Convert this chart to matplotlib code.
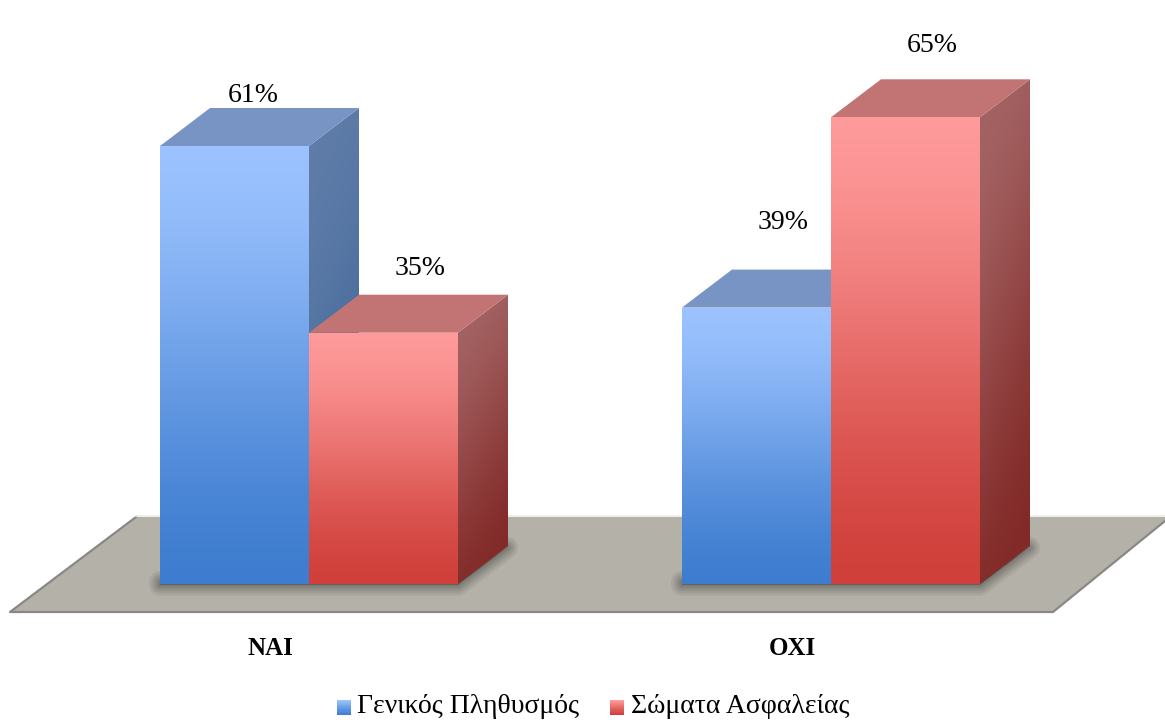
import numpy as np
import matplotlib
matplotlib.use("Agg")
import matplotlib.pyplot as plt
from matplotlib.legend_handler import HandlerBase
from matplotlib.patches import Patch, Polygon, Rectangle

plt.rcParams['font.family'] = ['Liberation Serif', 'DejaVu Serif']

categories = ["ΝΑΙ", "ΟΧΙ"]
series_names = ["Γενικός Πληθυσμός", "Σώματα Ασφαλείας"]
# bar heights, the labels are what the chart prints
general_values = [61, 38.5]
security_values = [35, 65]
general_labels = ["61%", "39%"]
security_labels = ["35%", "65%"]

W, H = 1165, 720
PX_X = 522.0   # pixels per category
PX_Y = 7.18    # pixels per percent
X0, Y0 = 309, 584

BAR_W = 149 / PX_X
DEPTH_X = 50 / PX_X
DEPTH_Y = 38 / PX_Y

# colours: front top, front bottom, side top, side bottom, roof
BLUE = ["#9cc3ff", "#3d7ccf", "#5f7ca8", "#3f6698", "#7894c4"]
RED = ["#ff9b9b", "#d03f3a", "#a36262", "#822a28", "#c27474"]


def px(x, y):
    # picture pixel to data coordinates, only for the floor and frame
    return (x - X0) / PX_X, (Y0 - y) / PX_Y


def rgb(c):
    return np.array(matplotlib.colors.to_rgb(c))


def fill_gradient(ax, pts, top, bottom, z, skew=0.0):
    pts = np.array(pts)
    x0, x1 = pts[:, 0].min(), pts[:, 0].max()
    y0, y1 = pts[:, 1].min(), pts[:, 1].max()
    yy, xx = np.mgrid[0:1:200j, 0:1:40j]
    t = np.clip(yy + skew * (xx - 0.5), 0, 1)
    t = t * t * (3 - 2 * t) * 0.6 + t * 0.4
    img = rgb(top)[None, None, :] * (1 - t[..., None]) + rgb(bottom)[None, None, :] * t[..., None]
    im = ax.imshow(img, extent=(x0, x1, y0, y1), origin="upper", aspect="auto",
                   interpolation="bilinear", zorder=z)
    im.set_clip_path(Polygon(pts, closed=True, transform=ax.transData))


def draw_shadow(ax, x, w, z):
    pts = [(x, 0.3), (x + w, 0.3), (x + w + DEPTH_X * 0.98, DEPTH_Y * 0.96), (x + w, -0.1), (x, -0.1)]
    for lw in [22, 17, 13, 9, 6, 3]:
        ax.add_patch(Polygon(pts, closed=True, facecolor="#3a3a34", edgecolor="#3a3a34", linewidth=lw * 0.72,
                             alpha=0.09, joinstyle="round", zorder=z))


def draw_bar(ax, x, value, colors, z):
    w = BAR_W
    dx, dy = DEPTH_X, DEPTH_Y
    front = [(x, 0), (x + w, 0), (x + w, value), (x, value)]
    side = [(x + w, 0), (x + w + dx, dy), (x + w + dx, value + dy), (x + w, value)]
    roof = [(x, value), (x + w, value), (x + w + dx, value + dy), (x + dx, value + dy)]
    fill_gradient(ax, side, colors[2], colors[3], z, skew=0.25)
    ax.add_patch(Polygon(roof, closed=True, facecolor=colors[4], edgecolor="none", zorder=z + 1))
    fill_gradient(ax, front, colors[0], colors[1], z + 2)


class GradientHandler(HandlerBase):
    def create_artists(self, legend, orig, xd, yd, width, height, fontsize, trans):
        top, bottom = orig.get_facecolor()[:3], orig.get_edgecolor()[:3]
        out = []
        n = 14
        full = 10.8  # swatch height in points
        for i in range(n):
            c = np.array(top) + (np.array(bottom) - np.array(top)) * i / (n - 1)
            h = full / n
            out.append(Rectangle((-xd, -yd - 1.5 + full - (i + 1) * h), width, h * 1.05,
                                 facecolor=c, edgecolor="none", transform=trans))
        return out


fig = plt.figure(figsize=(W / 100, H / 100), dpi=100)
ax = fig.add_axes([0, 0, 1, 1])
ax.axis("off")

# floor
floor = [px(136, 517), px(1165, 517), px(1165, 521), px(1053, 612), px(10, 612)]
ax.add_patch(Polygon(floor, closed=True, facecolor="#b4b1a9", edgecolor="none", zorder=1))
ax.plot(*zip(px(136, 517), px(10, 612), px(1053, 612), px(1165, 521)), color="#8a8883", lw=1.6, zorder=2)
ax.plot(*zip(px(136, 516), px(1165, 516)), color="#ecebe8", lw=1.2, zorder=2)

xs = np.arange(len(categories))
z = 10
for i in xs:
    draw_shadow(ax, i - BAR_W, 2 * BAR_W, 3)
for i in xs:
    draw_bar(ax, i - BAR_W, general_values[i], BLUE, z)
    draw_bar(ax, i, security_values[i], RED, z + 4)
    z += 10

# value labels, moved by hand off the bar tops like in the original
general_shift = [(0.035, 7.0), (0.05, 11.9)]
security_shift = [(0.07, 9.0), (0.052, 10.0)]
for i in xs:
    ax.text(i - BAR_W / 2 + general_shift[i][0], general_values[i] + general_shift[i][1], general_labels[i],
            ha="center", va="center", fontsize=20, color="black", zorder=50)
    ax.text(i + BAR_W / 2 + security_shift[i][0], security_values[i] + security_shift[i][1], security_labels[i],
            ha="center", va="center", fontsize=20, color="black", zorder=50)

for i in xs:
    ax.text(i - 0.074, -8.95, categories[i], ha="center", va="center", fontsize=18, fontweight="bold",
            color="black", zorder=50)

ax.set_xlim(-X0 / PX_X, (W - X0) / PX_X)
ax.set_ylim((Y0 - H) / PX_Y, Y0 / PX_Y)

handles = [Patch(facecolor=BLUE[0], edgecolor=BLUE[1], label=series_names[0]),
           Patch(facecolor=RED[0], edgecolor=RED[1], label=series_names[1])]
fig.legend(handles=handles, loc="center", bbox_to_anchor=(593 / W, 1 - 706 / H), ncol=2, frameon=False,
           fontsize=20, handler_map={Patch: GradientHandler()}, handlelength=0.5, handletextpad=0.25,
           columnspacing=1.1, borderpad=0)

fig.savefig("out.png", dpi=100, facecolor="white")
